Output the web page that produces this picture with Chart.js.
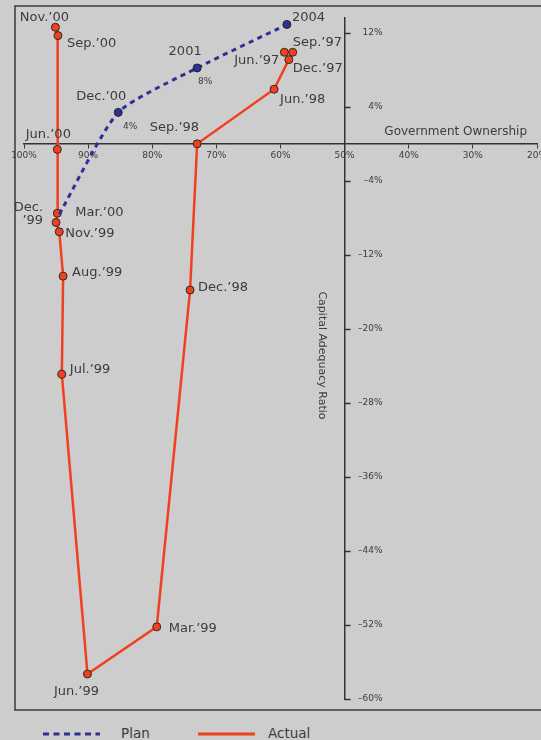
<!DOCTYPE html>
<html>
<head>
<meta charset="utf-8">
<script src="https://cdn.jsdelivr.net/npm/chart.js@4.4.0/dist/chart.umd.min.js"></script>
<style>
  html, body { margin: 0; padding: 0; background: #cdcdcd; width: 541px; height: 740px; overflow: hidden; }
  #wrap { position: absolute; left: 0; top: 0; width: 560px; height: 715px; }
  #legend { position: absolute; left: 0; top: 724px; width: 541px; height: 20px; font-family: "DejaVu Sans"; font-size: 13.5px; color: #3c3c3c; }
  #legend svg { position: absolute; top: 0; }
  #legend span { position: absolute; top: 1px; }
</style>
</head>
<body>
<div id="wrap"><canvas id="chart" width="560" height="715"></canvas></div>
<div id="legend">
  <svg style="left:43px" width="60" height="20"><line x1="0" y1="10" x2="57" y2="10" stroke="#2e3192" stroke-width="3" stroke-dasharray="6,4.5"/></svg>
  <span style="left:121px">Plan</span>
  <svg style="left:198px" width="60" height="20"><line x1="0" y1="10" x2="57" y2="10" stroke="#f0401e" stroke-width="3"/></svg>
  <span style="left:268px">Actual</span>
</div>
<script>
// actual path, Jun.'97 to Nov.'00
var actualLabels = ['Jun.’97', 'Sep.’97', 'Dec.’97', 'Jun.’98', 'Sep.’98', 'Dec.’98', 'Mar.’99', 'Jun.’99',
  'Jul.’99', 'Aug.’99', 'Nov.’99', 'Dec.\n’99', 'Mar.’00', 'Jun.’00', 'Sep.’00', 'Nov.’00'];
var actualOwnership = [59.4, 58.1, 58.7, 61.0, 73.0, 74.1, 79.3, 90.1, 94.1, 93.9, 94.5, 95.0, 94.8, 94.8, 94.7, 95.1];
var actualCar = [9.9, 9.9, 9.1, 5.9, 0, -15.8, -52.2, -57.3, -24.9, -14.3, -9.5, -8.5, -7.5, -0.6, 11.7, 12.6];

// plan path
var planLabels = ['', 'Dec.’00', '2001', '2004'];
var planCarLabels = ['', '4%', '8%', ''];
var planOwnership = [94.5, 85.3, 73.0, 59.0];
var planCar = [-7.6, 3.4, 8.2, 12.9];

var ownershipTicks = [100, 90, 80, 70, 60, 50, 40, 30, 20];
var carTicks = [12, 4, -4, -12, -20, -28, -36, -44, -52, -60];

var FONT = '"DejaVu Sans"';
var TEXT = '#3c3c3c';

// label placement next to each point: [dx, dy, align]
var actualLabelPos = [
  [-5, 8, 'right'], [0, -10, 'left'], [4, 9, 'left'], [6, 10, 'left'], [2, -16, 'right'],
  [8, -2, 'left'], [12, 2, 'left'], [-11, 18, 'center'], [8, -5, 'left'], [9, -4, 'left'],
  [6, 2, 'left'], [-13, -15, 'right'], [18, -1, 'left'], [-9, -15, 'center'], [9, 8, 'left'],
  [-11, -10, 'center']
];
var planLabelPos = [[0, 0, 'left'], [-17, -16, 'center'], [-12, -16, 'center'], [5, -7, 'left']];
var planValuePos = [[0, 0, 'left'], [12, 14, 'center'], [8, 14, 'center'], [0, 0, 'left']];

function pct(v) {
  return (v < 0 ? '–' + Math.abs(v) : v) + '%';
}

function toPoints(xs, ys) {
  return xs.map(function(v, i) { return {x: v, y: ys[i]}; });
}

function drawText(ctx, text, px, py, pos) {
  ctx.textAlign = pos[2];
  text.split('\n').forEach(function(line, k) {
    ctx.fillText(line, px + pos[0], py + pos[1] + k * 13);
  });
}

var annotate = {
  id: 'annotate',
  beforeDraw: function(chart) {
    var ctx = chart.ctx;
    ctx.save();
    ctx.strokeStyle = '#3a3a3a';
    ctx.lineWidth = 1.5;
    ctx.strokeRect(15, 6, 700, 704);
    ctx.restore();
  },
  afterDatasetsDraw: function(chart) {
    var ctx = chart.ctx;
    var xs = chart.scales.x, ys = chart.scales.y;
    var axisX = xs.getPixelForValue(50);
    ctx.save();

    // y tick marks point right of the axis
    ctx.strokeStyle = '#333';
    ctx.lineWidth = 1.5;
    ys.ticks.forEach(function(t) {
      var py = Math.round(ys.getPixelForValue(t.value)) + 0.5;
      ctx.beginPath();
      ctx.moveTo(axisX, py);
      ctx.lineTo(axisX + 6, py);
      ctx.stroke();
    });

    ctx.fillStyle = TEXT;
    ctx.textBaseline = 'middle';

    // y tick labels sit right of the axis
    ctx.font = '9px ' + FONT;
    ctx.textAlign = 'right';
    ys.ticks.forEach(function(t) {
      ctx.fillText(pct(t.value), axisX + 38, ys.getPixelForValue(t.value));
    });

    // axis titles
    ctx.font = '12px ' + FONT;
    ctx.fillText('Government Ownership', chart.chartArea.right - 10, ys.getPixelForValue(0) - 12);
    ctx.save();
    ctx.translate(axisX - 23, (chart.chartArea.top + chart.chartArea.bottom) / 2 - 3);
    ctx.rotate(Math.PI / 2);
    ctx.textAlign = 'center';
    ctx.font = '11px ' + FONT;
    ctx.fillText('Capital Adequacy Ratio', 0, 0);
    ctx.restore();

    // point labels
    ctx.font = '13px ' + FONT;
    chart.getDatasetMeta(1).data.forEach(function(pt, i) {
      drawText(ctx, actualLabels[i], pt.x, pt.y, actualLabelPos[i]);
    });
    var plan = chart.getDatasetMeta(0).data;
    plan.forEach(function(pt, i) {
      if (planLabels[i]) drawText(ctx, planLabels[i], pt.x, pt.y, planLabelPos[i]);
    });
    ctx.font = '9px ' + FONT;
    plan.forEach(function(pt, i) {
      if (planCarLabels[i]) drawText(ctx, planCarLabels[i], pt.x, pt.y, planValuePos[i]);
    });
    ctx.restore();
  }
};

var ctx = document.getElementById('chart').getContext('2d');
var chart = new Chart(ctx, {
  type: 'scatter',
  data: {
    datasets: [{
      label: 'Plan',
      data: toPoints(planOwnership, planCar),
      showLine: true,
      borderColor: '#2e3192',
      borderWidth: 3,
      borderDash: [5, 4.5],
      tension: 0.2,
      pointRadius: [0, 4, 4, 4],
      pointBackgroundColor: '#2e3192',
      pointBorderColor: '#222',
      pointBorderWidth: 1,
      clip: false
    }, {
      label: 'Actual',
      data: toPoints(actualOwnership, actualCar),
      showLine: true,
      borderColor: '#f0401e',
      borderWidth: 2.5,
      tension: 0,
      pointRadius: 4,
      pointBackgroundColor: '#f0401e',
      pointBorderColor: '#2a2a2a',
      pointBorderWidth: 1,
      clip: false
    }]
  },
  options: {
    responsive: false,
    animation: false,
    layout: { padding: { left: 24, right: 23, top: 18, bottom: 16 } },
    plugins: { legend: { display: false }, tooltip: { enabled: false } },
    scales: {
      x: {
        type: 'linear',
        reverse: true,
        min: 20,
        max: 100,
        position: { y: 0 },
        afterBuildTicks: function(s) { s.ticks = ownershipTicks.map(function(v) { return {value: v}; }); },
        ticks: {
          maxRotation: 0,
          autoSkip: false,
          padding: 2,
          color: TEXT,
          font: { family: FONT, size: 9 },
          callback: function(v) { return v + '%'; }
        },
        grid: { drawOnChartArea: false, tickLength: 4, color: '#333' },
        border: { color: '#333', width: 1.5 }
      },
      y: {
        type: 'linear',
        min: -60,
        max: 13.6,
        position: { x: 50 },
        afterBuildTicks: function(s) { s.ticks = carTicks.map(function(v) { return {value: v}; }); },
        ticks: { display: false },
        grid: { drawOnChartArea: false, drawTicks: false, color: '#333' },
        border: { color: '#333', width: 1.5 }
      }
    }
  },
  plugins: [annotate]
});
</script>
</body>
</html>
